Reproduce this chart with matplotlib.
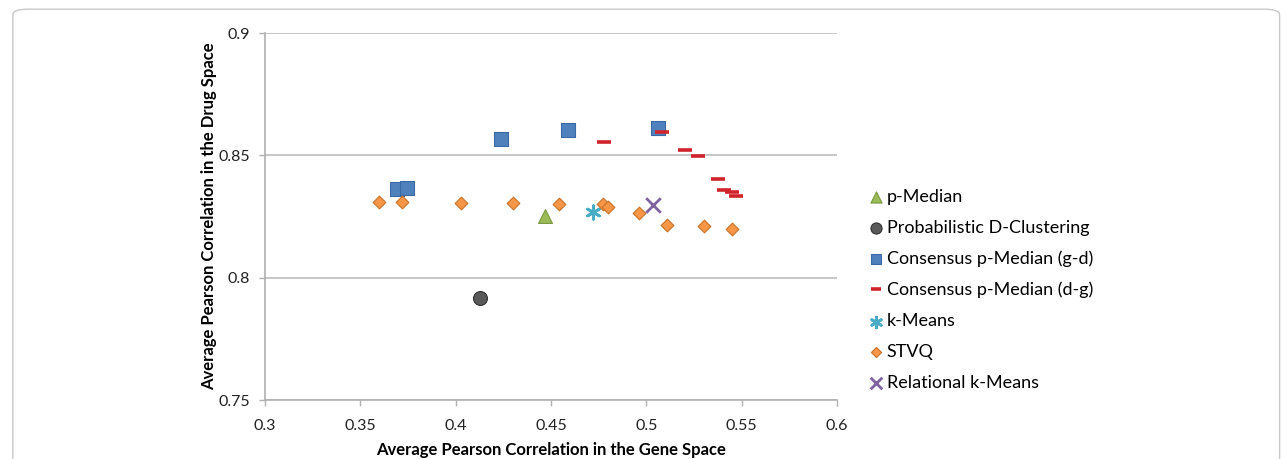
import matplotlib.pyplot as plt
from matplotlib.patches import FancyBboxPatch

plt.rcParams['font.family'] = ['Lato', 'DejaVu Sans']

# --- data ---
pmedian_x = [0.447]
pmedian_y = [0.8252]

prob_x = [0.413]
prob_y = [0.7917]

cons_gd_x = [0.369, 0.3745, 0.424, 0.459, 0.506]
cons_gd_y = [0.8362, 0.8366, 0.8567, 0.8603, 0.8612]

cons_dg_x = [0.478, 0.508, 0.520, 0.527, 0.5375, 0.5405, 0.545, 0.547]
cons_dg_y = [0.8554, 0.8595, 0.8522, 0.8497, 0.8403, 0.8358, 0.8350, 0.8334]

kmeans_x = [0.472]
kmeans_y = [0.8268]

stvq_x = [0.360, 0.372, 0.403, 0.430, 0.454, 0.477, 0.480, 0.496, 0.511, 0.530, 0.545]
stvq_y = [0.8309, 0.8309, 0.8305, 0.8305, 0.8301, 0.8301, 0.8289, 0.8264, 0.8215, 0.8211, 0.8199]

relk_x = [0.5035]
relk_y = [0.8297]

fig = plt.figure(figsize=(12.86, 4.59), dpi=100)
ax = fig.add_axes([0.206, 0.1285, 0.445, 0.7995])

# rounded frame around the whole chart
frame = FancyBboxPatch((0.010, -0.05), 0.985, 1.03, boxstyle="round,pad=0,rounding_size=0.012",
                       transform=fig.transFigure, fill=False, edgecolor='#c8c8c8', linewidth=1.0)
fig.patches.append(frame)

ax.scatter(pmedian_x, pmedian_y, marker='^', s=100, color='#9BBB59', edgecolors='#7a9a40',
           linewidths=0.8, label='p-Median', zorder=3)
ax.scatter(prob_x, prob_y, marker='o', s=100, color='#595959', edgecolors='#303030',
           linewidths=0.8, label='Probabilistic D-Clustering', zorder=3)
ax.scatter(cons_gd_x, cons_gd_y, marker='s', s=92, color='#4F81BD', edgecolors='#3a6aa5',
           linewidths=0.8, label='Consensus p-Median (g-d)', zorder=3)
ax.plot(cons_dg_x, cons_dg_y, linestyle='none', marker='_', markersize=9.5, mew=2.6,
        color='#D0232B', label='Consensus p-Median (d-g)', zorder=3)
ax.scatter(kmeans_x, kmeans_y, marker=(6, 2, 0), s=95, color='#4BACC6',
           linewidths=2.0, label='k-Means', zorder=3)
ax.scatter(stvq_x, stvq_y, marker='D', s=42, color='#F79646', edgecolors='#c8722a',
           linewidths=0.8, label='STVQ', zorder=3)
ax.scatter(relk_x, relk_y, marker='x', s=110, color='#8064A2', linewidths=2.0,
           label='Relational k-Means', zorder=3)

ax.set_xlim(0.3, 0.6)
ax.set_ylim(0.75, 0.9)
ax.set_xticks([0.3, 0.35, 0.4, 0.45, 0.5, 0.55, 0.6])
ax.set_xticklabels(['0.3', '0.35', '0.4', '0.45', '0.5', '0.55', '0.6'])
ax.set_yticks([0.75, 0.8, 0.85, 0.9])
ax.set_yticklabels(['0.75', '0.8', '0.85', '0.9'])
ax.tick_params(axis='both', labelsize=11.5, color='#b0b0b0', length=4, width=1, labelcolor='#222222')
ax.tick_params(axis='x', pad=10)
ax.tick_params(axis='y', pad=7)

ax.yaxis.grid(True, color='#bdbdbd', linewidth=1.2)
ax.set_axisbelow(True)
for s in ['top', 'right']:
    ax.spines[s].set_visible(False)
for s in ['left', 'bottom']:
    ax.spines[s].set_color('#b0b0b0')
    ax.spines[s].set_linewidth(1.2)

ax.set_xlabel('Average Pearson Correlation in the Gene Space', fontsize=12, fontweight='bold')
ax.set_ylabel('Average Pearson Correlation in the Drug Space', fontsize=12, fontweight='bold')
ax.xaxis.set_label_coords(0.5, -0.115)
ax.yaxis.set_label_coords(-0.083, 0.5)

ax.legend(loc='center left', bbox_to_anchor=(1.038, 0.30), frameon=False, fontsize=13,
          handletextpad=0.05, labelspacing=0.82, handlelength=1.1, borderaxespad=0,
          markerscale=0.8)

fig.savefig('out.png', dpi=100)
